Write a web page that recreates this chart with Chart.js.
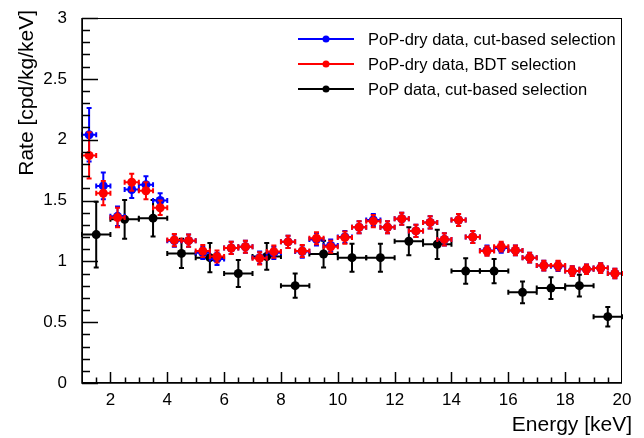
<!DOCTYPE html>
<html lang="en">
<head>
    <meta charset="UTF-8">
    <title>Rate vs Energy</title>
    <script src="https://cdn.jsdelivr.net/npm/chart.js"></script>
    <style>
        body { margin: 0; padding: 0; background: #fff; overflow: hidden; }
        .chart-container { position: relative; width: 644px; height: 438px; }
    </style>
</head>
<body>
    <div class="chart-container">
        <canvas id="rateChart" width="644" height="438"></canvas>
    </div>

    <script>
        // 0.5 keV bins (PoP-dry)
        const energyFine = [1.25, 1.75, 2.25, 2.75, 3.25, 3.75, 4.25, 4.75, 5.25, 5.75,
            6.25, 6.75, 7.25, 7.75, 8.25, 8.75, 9.25, 9.75, 10.25, 10.75,
            11.25, 11.75, 12.25, 12.75, 13.25, 13.75, 14.25, 14.75, 15.25, 15.75,
            16.25, 16.75, 17.25, 17.75, 18.25, 18.75, 19.25, 19.75];
        const fineHalfWidth = 0.25;

        const rateDryCut = [2.04, 1.62, 1.37, 1.59, 1.63, 1.50, 1.17, 1.17, 1.07, 1.02,
            1.11, 1.12, 1.03, 1.07, 1.16, 1.08, 1.18, 1.13, 1.20, 1.28,
            1.34, 1.28, 1.35, 1.25, 1.32, 1.18, 1.34, 1.20, 1.09, 1.11,
            1.09, 1.03, 0.965, 0.96, 0.92, 0.935, 0.945, 0.90];
        const errDryCut = [0.22, 0.11, 0.08, 0.07, 0.07, 0.06, 0.05, 0.05, 0.05, 0.05,
            0.05, 0.05, 0.05, 0.05, 0.05, 0.05, 0.05, 0.05, 0.05, 0.05,
            0.05, 0.05, 0.05, 0.05, 0.05, 0.05, 0.05, 0.05, 0.04, 0.04,
            0.04, 0.04, 0.04, 0.04, 0.04, 0.04, 0.04, 0.04];

        const rateDryBdt = [1.87, 1.56, 1.36, 1.65, 1.58, 1.44, 1.175, 1.17, 1.085, 1.04,
            1.11, 1.12, 1.025, 1.08, 1.16, 1.085, 1.19, 1.12, 1.195, 1.28,
            1.33, 1.28, 1.35, 1.25, 1.32, 1.18, 1.34, 1.20, 1.085, 1.12,
            1.09, 1.03, 0.965, 0.965, 0.92, 0.935, 0.945, 0.90];
        const errDryBdt = [0.19, 0.10, 0.08, 0.07, 0.07, 0.06, 0.05, 0.05, 0.05, 0.05,
            0.05, 0.05, 0.05, 0.05, 0.05, 0.05, 0.05, 0.05, 0.05, 0.05,
            0.05, 0.05, 0.05, 0.05, 0.05, 0.05, 0.05, 0.05, 0.04, 0.04,
            0.04, 0.04, 0.04, 0.04, 0.04, 0.04, 0.04, 0.04];

        // 1 keV bins (PoP)
        const energyPop = [1.5, 2.5, 3.5, 4.5, 5.5, 6.5, 7.5, 8.5, 9.5, 10.5,
            11.5, 12.5, 13.5, 14.5, 15.5, 16.5, 17.5, 18.5, 19.5];
        const popHalfWidth = 0.5;
        const ratePop = [1.22, 1.345, 1.355, 1.065, 1.03, 0.90, 1.04, 0.80, 1.06, 1.03,
            1.03, 1.165, 1.14, 0.92, 0.92, 0.745, 0.78, 0.80, 0.545];
        const errPop = [0.27, 0.16, 0.15, 0.12, 0.12, 0.11, 0.11, 0.10, 0.11, 0.115,
            0.115, 0.115, 0.12, 0.105, 0.10, 0.09, 0.09, 0.09, 0.08];

        const xTicks = [2, 4, 6, 8, 10, 12, 14, 16, 18, 20];
        const yTicks = [0, 0.5, 1, 1.5, 2, 2.5, 3];
        const yTickLabels = ['0', '0.5', '1', '1.5', '2', '2.5', '3'];
        const xTitle = 'Energy [keV]';
        const yTitle = 'Rate [cpd/kg/keV]';

        const fontFamily = '"Liberation Sans", Arial, Helvetica, sans-serif';

        function points(xs, ys, errs, half) {
            return xs.map((x, i) => ({ x: x, y: ys[i], err: errs[i], xerr: half }));
        }

        // error bars drawn under each dataset's markers
        const errorBarPlugin = {
            id: 'errorBars',
            beforeDatasetDraw(chart, args) {
                const ds = chart.data.datasets[args.index];
                const xs = chart.scales.x, ys = chart.scales.y;
                const ctx = chart.ctx;
                const cap = 2.5;
                ctx.save();
                ctx.strokeStyle = ds.borderColor;
                ctx.lineWidth = 2;
                ds.data.forEach(p => {
                    const px = xs.getPixelForValue(p.x);
                    const py = ys.getPixelForValue(p.y);
                    const x0 = xs.getPixelForValue(p.x - p.xerr);
                    const x1 = xs.getPixelForValue(p.x + p.xerr);
                    const y0 = ys.getPixelForValue(p.y - p.err);
                    const y1 = ys.getPixelForValue(p.y + p.err);
                    ctx.beginPath();
                    ctx.moveTo(x0, py); ctx.lineTo(x1, py);
                    ctx.moveTo(px, y0); ctx.lineTo(px, y1);
                    ctx.moveTo(x0, py - cap); ctx.lineTo(x0, py + cap);
                    ctx.moveTo(x1, py - cap); ctx.lineTo(x1, py + cap);
                    ctx.moveTo(px - cap, y0); ctx.lineTo(px + cap, y0);
                    ctx.moveTo(px - cap, y1); ctx.lineTo(px + cap, y1);
                    ctx.stroke();
                });
                ctx.restore();
            }
        };

        // ROOT style frame, inner ticks, legend and axis titles
        const framePlugin = {
            id: 'rootFrame',
            afterDraw(chart) {
                const ctx = chart.ctx;
                const a = chart.chartArea;
                const xs = chart.scales.x, ys = chart.scales.y;
                ctx.save();
                ctx.strokeStyle = '#000';
                ctx.lineWidth = 1;
                ctx.strokeRect(a.left + 0.5, a.top + 0.5, a.right - a.left - 1, a.bottom - a.top - 1);

                ctx.lineWidth = 1.5;
                ctx.beginPath();
                ctx.moveTo(a.left, a.top); ctx.lineTo(a.left, a.bottom); ctx.lineTo(a.right, a.bottom);
                // y ticks every 0.1, major every 0.5
                for (let i = 0; i <= 30; i++) {
                    const py = Math.round(ys.getPixelForValue(i / 10)) + 0.5;
                    const len = i % 5 === 0 ? 16 : 8;
                    ctx.moveTo(a.left, py); ctx.lineTo(a.left + len, py);
                }
                // x ticks every 0.5, major every 2
                for (let i = 3; i <= 39; i++) {
                    const v = i / 2;
                    const px = Math.round(xs.getPixelForValue(v)) + 0.5;
                    const len = v % 2 === 0 ? 11 : 5.5;
                    ctx.moveTo(px, a.bottom); ctx.lineTo(px, a.bottom - len);
                }
                ctx.stroke();

                // axis titles
                ctx.fillStyle = '#000';
                ctx.font = '21px ' + fontFamily;
                ctx.textAlign = 'right';
                ctx.textBaseline = 'alphabetic';
                ctx.fillText(xTitle, 632, 431);

                ctx.save();
                ctx.translate(33, 10);
                ctx.rotate(-Math.PI / 2);
                ctx.fillText(yTitle, 0, 0);
                ctx.restore();

                // legend
                const rows = [39, 64, 89];
                ctx.font = '16.5px ' + fontFamily;
                ctx.textAlign = 'left';
                ctx.textBaseline = 'middle';
                chart.data.datasets.forEach((ds, i) => {
                    const y = rows[i];
                    ctx.strokeStyle = ds.borderColor;
                    ctx.lineWidth = 2;
                    ctx.beginPath();
                    ctx.moveTo(298, y); ctx.lineTo(354, y);
                    ctx.stroke();
                    ctx.fillStyle = ds.backgroundColor;
                    ctx.beginPath();
                    ctx.arc(326, y, 3.5, 0, Math.PI * 2);
                    ctx.fill();
                    ctx.fillStyle = '#000';
                    ctx.fillText(ds.label, 368, y + 1);
                });
                ctx.restore();
            }
        };

        const ctx = document.getElementById('rateChart').getContext('2d');
        const rateChart = new Chart(ctx, {
            type: 'scatter',
            data: {
                datasets: [{
                    label: 'PoP-dry data, cut-based selection',
                    data: points(energyFine, rateDryCut, errDryCut, fineHalfWidth),
                    borderColor: '#0000ff',
                    backgroundColor: '#0000ff',
                    pointRadius: 4.5,
                    pointBorderWidth: 0,
                    order: 1
                }, {
                    label: 'PoP-dry data, BDT selection',
                    data: points(energyFine, rateDryBdt, errDryBdt, fineHalfWidth),
                    borderColor: '#ff0000',
                    backgroundColor: '#ff0000',
                    pointRadius: 4.5,
                    pointBorderWidth: 0,
                    order: 0
                }, {
                    label: 'PoP data, cut-based selection',
                    data: points(energyPop, ratePop, errPop, popHalfWidth),
                    borderColor: '#000000',
                    backgroundColor: '#000000',
                    pointRadius: 4.5,
                    pointBorderWidth: 0,
                    order: 2
                }]
            },
            options: {
                responsive: false,
                animation: false,
                devicePixelRatio: 1,
                layout: { padding: { top: 18, right: 22, left: 0, bottom: 0 } },
                plugins: {
                    legend: { display: false },
                    tooltip: { enabled: false }
                },
                scales: {
                    x: {
                        type: 'linear',
                        min: 1,
                        max: 20,
                        grid: { display: false },
                        border: { display: false },
                        afterBuildTicks: s => { s.ticks = xTicks.map(v => ({ value: v })); },
                        afterFit: s => { s.height = 55; },
                        ticks: {
                            color: '#000',
                            padding: -1,
                            maxRotation: 0,
                            autoSkip: false,
                            font: { family: fontFamily, size: 17 }
                        }
                    },
                    y: {
                        type: 'linear',
                        min: 0,
                        max: 3,
                        grid: { display: false },
                        border: { display: false },
                        afterBuildTicks: s => { s.ticks = yTicks.map(v => ({ value: v })); },
                        afterFit: s => { s.width = 82; },
                        ticks: {
                            color: '#000',
                            padding: 7,
                            autoSkip: false,
                            font: { family: fontFamily, size: 17 },
                            callback: (v) => yTickLabels[yTicks.indexOf(v)]
                        }
                    }
                }
            },
            plugins: [errorBarPlugin, framePlugin]
        });
    </script>
</body>
</html>
